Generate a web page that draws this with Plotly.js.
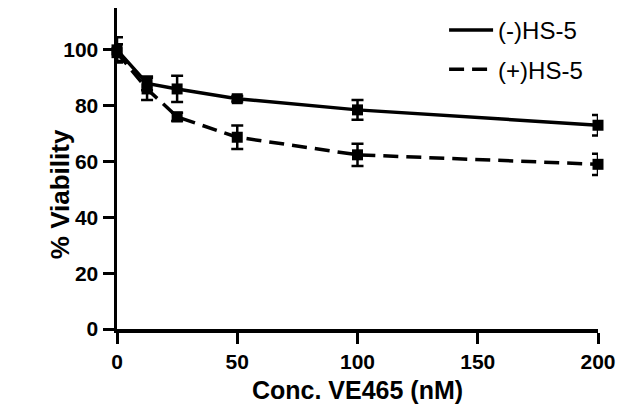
<!DOCTYPE html>
<html>
<head>
<meta charset="utf-8">
<script src="https://cdn.plot.ly/plotly-3.0.1.min.js"></script>
<style>html,body{margin:0;padding:0;background:#fff;}#chart{width:619px;height:414px;}</style>
</head>
<body>
<div id="chart"></div>
<script>
const conc = [0, 12.5, 25, 50, 100, 200];
const minusHS5 = [100, 88, 86, 82.5, 78.5, 73];
const minusErr = [4.5, 2.5, 4.7, 1, 3.5, 3.7];
const plusHS5 = [99, 86, 76, 68.7, 62.4, 59];
const plusErr = [3, 4, 1.5, 4.2, 4, 3.8];
const seriesNames = ["(-)HS-5", "(+)HS-5"];
const xTicks = [0, 50, 100, 150, 200];
const yTicks = [0, 20, 40, 60, 80, 100];
const xTitle = "Conc. VE465 (nM)";
const yTitle = "% Viability";

const FONT = "Liberation Sans, Arial, Helvetica, sans-serif";

const traces = [
  {x: conc, y: minusHS5, name: seriesNames[0], mode: "lines", legendgroup: "a",
   line: {color: "#000", width: 3.5}, cliponaxis: false},
  {x: conc, y: plusHS5, name: seriesNames[1], mode: "lines", legendgroup: "b",
   line: {color: "#000", width: 3.5, dash: "15px,8px"}, cliponaxis: false},
  {x: conc, y: minusHS5, mode: "markers", showlegend: false, cliponaxis: false,
   marker: {symbol: "square", size: 11, color: "#000"},
   error_y: {type: "data", array: minusErr, visible: true, color: "#000", thickness: 2.5, width: 6}},
  {x: conc, y: plusHS5, mode: "markers", showlegend: false, cliponaxis: false,
   marker: {symbol: "square", size: 11, color: "#000"},
   error_y: {type: "data", array: plusErr, visible: true, color: "#000", thickness: 2.5, width: 6}}
];

const layout = {
  width: 619, height: 414,
  margin: {l: 117, r: 21, t: 8, b: 85, autoexpand: false},
  paper_bgcolor: "#fff", plot_bgcolor: "#fff",
  font: {family: FONT, color: "#000"},
  showlegend: true,
  legend: {x: 0.68, y: 1.0, xanchor: "left", yanchor: "top", bgcolor: "rgba(0,0,0,0)",
           font: {family: FONT, size: 24, color: "#000"}, traceorder: "grouped",
           tracegroupgap: 5, itemwidth: 44},
  xaxis: {range: [0, 200], tickvals: xTicks, showline: true, linewidth: 3.5, linecolor: "#000",
          ticks: "outside", ticklen: 11, tickwidth: 3, tickcolor: "#000",
          showgrid: false, zeroline: false, automargin: false,
          tickfont: {family: FONT, size: 21, weight: "bold", color: "#000"},
          title: {text: xTitle, standoff: 11,
                  font: {family: FONT, size: 25, weight: "bold", color: "#000"}}},
  yaxis: {range: [0, 115], tickvals: yTicks, showline: true, linewidth: 3.5, linecolor: "#000",
          ticks: "outside", ticklen: 11, tickwidth: 3, tickcolor: "#000",
          showgrid: false, zeroline: false, automargin: false,
          tickfont: {family: FONT, size: 21, weight: "bold", color: "#000"}},
  annotations: [
    {text: yTitle, xref: "paper", yref: "paper", x: -0.1185, y: 0.42,
     xanchor: "center", yanchor: "middle", textangle: -90, showarrow: false,
     font: {family: FONT, size: 26, weight: "bold", color: "#000"}}
  ]
};

Plotly.newPlot("chart", traces, layout, {displayModeBar: false, staticPlot: true});
</script>
</body>
</html>
